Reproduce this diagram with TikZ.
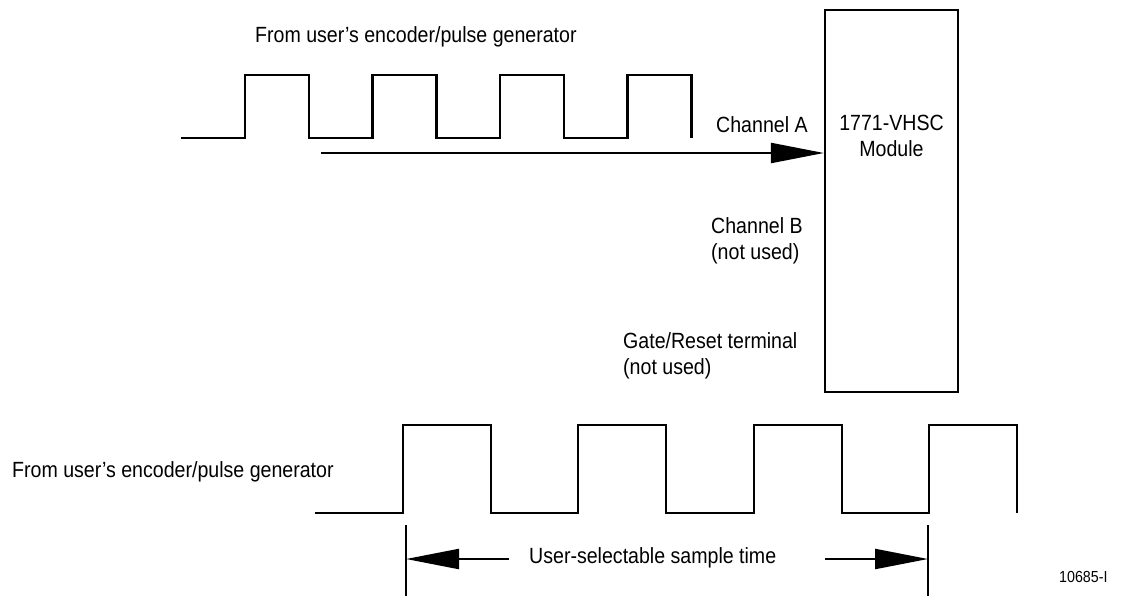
\documentclass[tikz,border=0pt]{standalone}
\usepackage{fontspec}
\setmainfont[FakeStretch=0.89]{Liberation Sans}
\usetikzlibrary{arrows.meta}
\tikzstyle{wave}=[line width=2.2pt,line join=miter]
\tikzstyle{txt}=[font=\fontsize{22}{26}\selectfont,inner sep=0pt,anchor=base west,align=left]
\tikzstyle{module}=[rectangle,line width=2.2pt,draw=black,minimum width=133pt,
minimum height=382pt,inner sep=0pt]
\tikzstyle{sig}=[line width=2.2pt,-{Triangle[length=53pt,width=20pt]}]
\tikzstyle{tick}=[line width=2.2pt]

\begin{document}
\begin{tikzpicture}[x=1pt,y=-1pt]
			\useasboundingbox (0,0) rectangle (1123,596);

			% Module and its inputs
			\node[module] (vhsc) at (891.5,201) {};
			\node[txt,anchor=base,align=center] (vhsclbl) at (891.5,157) {1771-VHSC\\Module};
			\node[txt] (chA) at (716,133) {Channel A};
			\node[txt] (chB) at (711,259) {Channel B\\(not used)};
			\node[txt] (gate) at (623,374) {Gate/Reset terminal\\(not used)};

			% Top pulse train
			\node[txt] (topsrc) at (255,43) {From user’s encoder/pulse generator};
			\draw[wave] (181,138)
				\foreach \x in {245,372.5,500,627.5} { -- (\x,138) -- (\x,75) -- (\x+64,75) -- (\x+64,138) };
			\coordinate (ain) at (321,153);
			\draw[sig] (ain) -- (ain -| vhsc.west);

			% Bottom pulse train
			\node[txt] (botsrc) at (12,477) {From user’s encoder/pulse generator};
			\draw[wave] (315,513)
				\foreach \x in {403,578,754,929} { -- (\x,513) -- (\x,425) -- (\x+88,425) -- (\x+88,513) };

			% Sample time
			\coordinate (tL) at (406,525);
			\coordinate (tR) at (928,525);
			\draw[tick] (tL) -- ++(0,72);
			\draw[tick] (tR) -- ++(0,72);
			\node[txt] (sample) at (529,563) {User-selectable sample time};
			\coordinate (dL) at (509,559);
			\coordinate (dR) at (825,559);
			\path[sig] (dL) edge (dL -| tL);
			\path[sig] (dR) edge (dR -| tR);

			\node[txt,font=\fontsize{16}{19}\selectfont] (fig) at (1059,582) {10685-I};
		\end{tikzpicture}
\end{document}
